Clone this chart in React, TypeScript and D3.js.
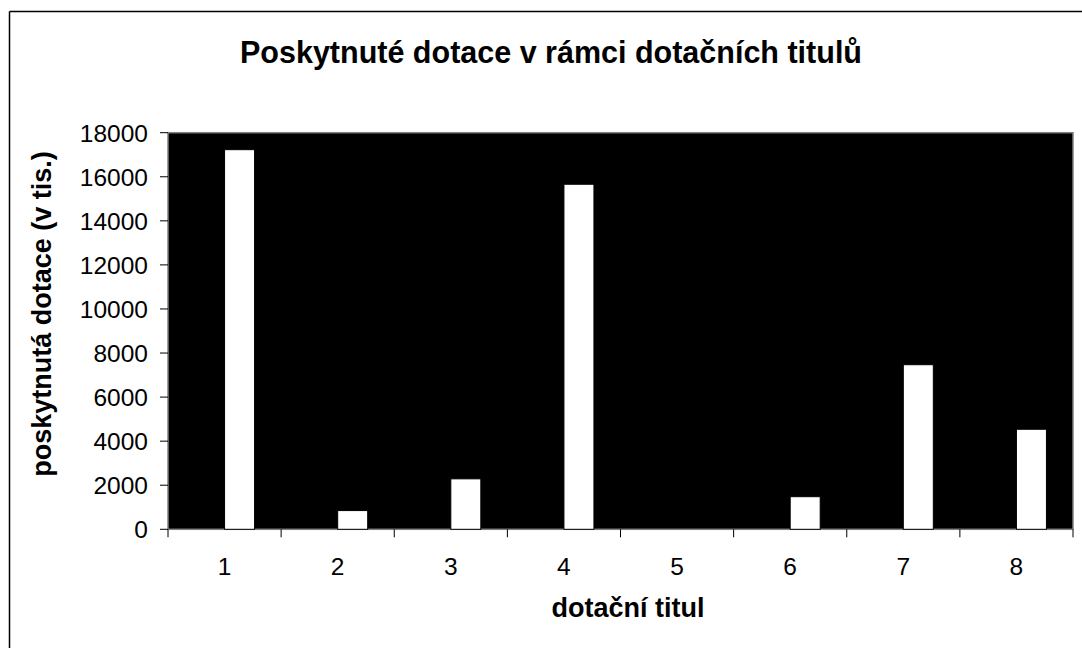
import React from "react";
import * as d3 from "d3";

const categories = ["1", "2", "3", "4", "5", "6", "7", "8"];
const seriesA = [0, 0, 0, 0, 0, 0, 0, 0];
const seriesB = [17230, 850, 2290, 15660, 0, 1480, 7470, 4540];
const yTicks = [0, 2000, 4000, 6000, 8000, 10000, 12000, 14000, 16000, 18000];

const W = 1082;
const H = 648;
const plot = { left: 168, right: 1073, top: 132.7, bottom: 529.3 };
const font = "Arial, 'Liberation Sans', Helvetica, sans-serif";

export default function App() {
  const x = d3.scaleBand<string>().domain(categories).range([plot.left, plot.right]).paddingInner(0).paddingOuter(0);
  const y = d3.scaleLinear().domain([0, 18000]).range([plot.bottom, plot.top]);
  const bw = 30;
  const boundaries = categories.map((c) => x(c)!).concat([plot.right]);

  return (
    <div style={{ position: "fixed", left: 0, top: 0, width: W, height: H, background: "#fff", overflow: "hidden" }}>
      <svg width={W} height={H} style={{ display: "block" }}>
        <line x1={9.5} x2={W} y1={11.5} y2={11.5} stroke="#000" strokeWidth={1.5} />
        <line x1={9.5} x2={9.5} y1={11.5} y2={H} stroke="#000" strokeWidth={1.5} />
        <text x={551} y={63} textAnchor="middle" fontFamily={font} fontWeight="bold" fontSize={30.5}>
          Poskytnuté dotace v rámci dotačních titulů
        </text>
        <rect x={plot.left} y={plot.top} width={plot.right - plot.left} height={plot.bottom - plot.top} fill="#000" stroke="#808080" strokeWidth={1.5} />
        {categories.map((c, i) => {
          const cx = x(c)! + x.bandwidth() / 2;
          return (
            <g key={c}>
              <rect x={cx - bw} y={y(seriesA[i])} width={bw} height={plot.bottom - y(seriesA[i])} fill="#000" stroke="#000" strokeWidth={1.5} />
              {seriesB[i] > 0 && (
                <rect x={cx} y={y(seriesB[i])} width={bw} height={plot.bottom - y(seriesB[i])} fill="#fff" stroke="#000" strokeWidth={1} />
              )}
            </g>
          );
        })}
        {yTicks.map((t) => (
          <g key={t}>
            <line x1={160} x2={plot.left} y1={y(t)} y2={y(t)} stroke="#000" strokeWidth={1} />
            <text x={148} y={y(t)} dy="0.36em" textAnchor="end" fontFamily={font} fontSize={24.5}>
              {t}
            </text>
          </g>
        ))}
        {boundaries.map((b, i) => (
          <line key={i} x1={b} x2={b} y1={plot.bottom} y2={plot.bottom + 8} stroke="#000" strokeWidth={1} />
        ))}
        {categories.map((c) => (
          <text key={c} x={x(c)! + x.bandwidth() / 2} y={575} textAnchor="middle" fontFamily={font} fontSize={24.5}>
            {c}
          </text>
        ))}
        <text x={628} y={617} textAnchor="middle" fontFamily={font} fontWeight="bold" fontSize={27}>
          dotační titul
        </text>
        <text transform={`translate(51,${(plot.top + plot.bottom) / 2 - 17}) rotate(-90)`} textAnchor="middle" fontFamily={font} fontWeight="bold" fontSize={27}>
          poskytnutá dotace (v tis.)
        </text>
      </svg>
    </div>
  );
}
